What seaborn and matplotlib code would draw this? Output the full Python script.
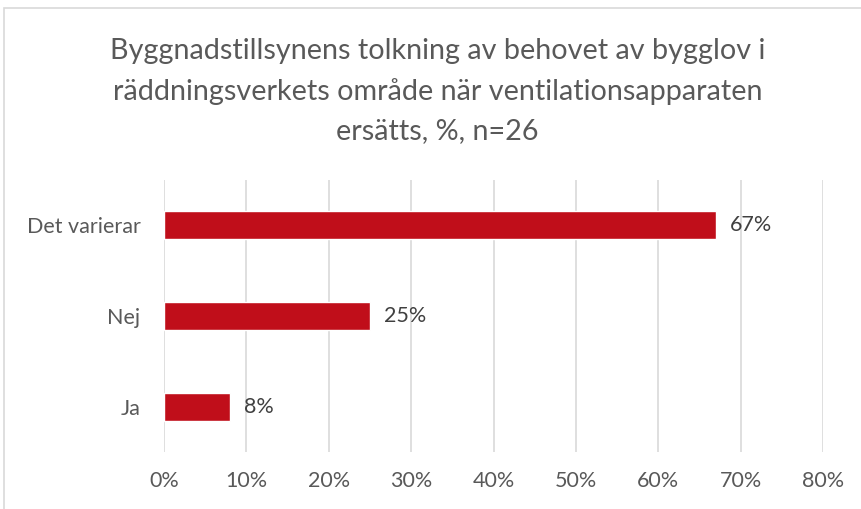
import matplotlib
matplotlib.use("Agg")
import matplotlib.pyplot as plt
import seaborn as sns
import pandas as pd
from matplotlib.patches import Rectangle

categories = ["Det varierar", "Nej", "Ja"]
values = [67, 25, 8]
value_labels = ["67%", "25%", "8%"]
xticks = [0, 10, 20, 30, 40, 50, 60, 70, 80]
xtick_labels = ["0%", "10%", "20%", "30%", "40%", "50%", "60%", "70%", "80%"]
title = "Byggnadstillsynens tolkning av behovet av bygglov i\nräddningsverkets område när ventilationsapparaten\nersätts, %, n=26"

sns.set_theme(style="white")
plt.rcParams['font.family'] = ['Lato', 'DejaVu Sans']
txt = "#595959"

df = pd.DataFrame({"cat": categories, "val": values})

fig = plt.figure(figsize=(8.61, 5.09), dpi=100)
ax = fig.add_axes([164/861, 1-452/509, (823-164)/861, (452-180)/509])

sns.barplot(data=df, x="val", y="cat", color="#C00E1A", width=0.31, ax=ax,
            saturation=1, orient="h")

ax.set_xlim(0, 80)
ax.set_xticks(xticks)
ax.set_xticklabels(xtick_labels, color=txt, fontsize=15.5)
ax.tick_params(axis="y", labelcolor=txt, labelsize=15.5, length=0, pad=17)
ax.tick_params(axis="x", length=0, pad=14)
ax.set_xlabel("")
ax.set_ylabel("")
for s in ax.spines.values():
    s.set_visible(False)
ax.grid(axis="x", color="#D9D9D9", linewidth=1.2)
ax.set_axisbelow(True)

for i, (v, lab) in enumerate(zip(values, value_labels)):
    ax.annotate(lab, (v, i), xytext=(10, 0), textcoords="offset points",
                va="center", ha="left", color="#404040", fontsize=15.5)

fig.text(0.508, 1-91/509, title, ha="center", va="center", color=txt,
         fontsize=20.7, linespacing=1.62)

fig.patches.append(Rectangle((4/861, -0.1), 1.0, 1-8/509+0.1, transform=fig.transFigure,
                             fill=False, edgecolor="#D9D9D9", linewidth=1.2))

fig.savefig("out.png", dpi=100)
